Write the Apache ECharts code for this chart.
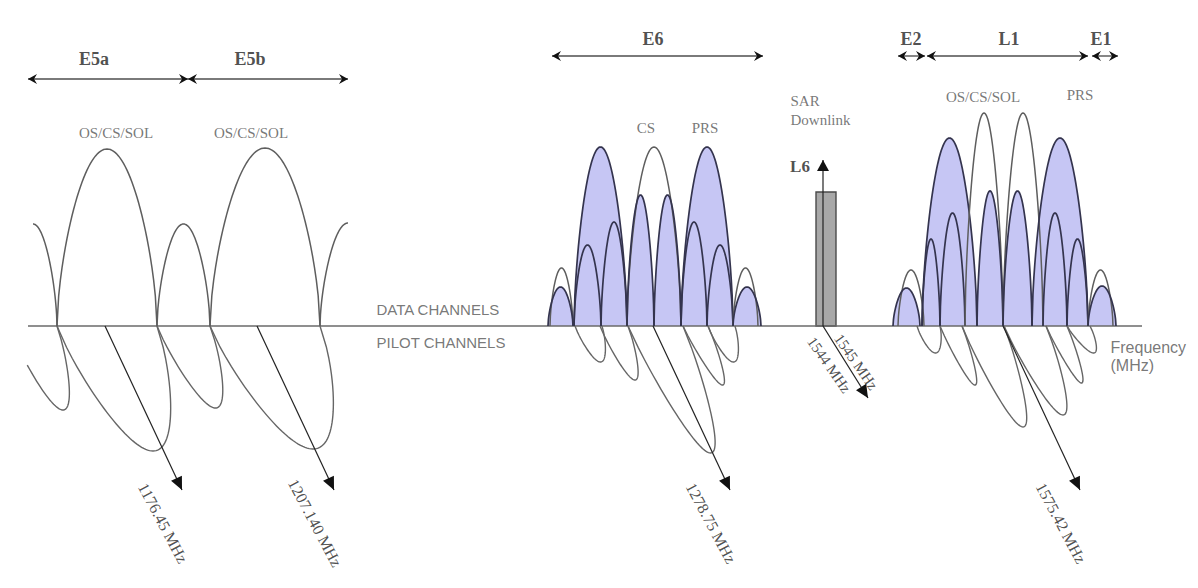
<!DOCTYPE html>
<html>
<head>
<meta charset="utf-8">
<script src="https://cdn.jsdelivr.net/npm/echarts@6/dist/echarts.min.js"></script>
<style>
  html, body { margin: 0; padding: 0; background: #fff; }
  #chart { width: 1198px; height: 588px; }
</style>
</head>
<body>
<div id="chart"></div>
<script>
// Galileo signal plan: data-channel spectra above the frequency line,
// pilot-channel spectra mirrored below it and leaned to suggest depth.
// x = schematic frequency position, y = relative spectral level.

// Data lobes: [from, to, level, filled (1/0), tStart, tEnd]
const e5DataLobes = [
  [9, 57, 102, 0, 0.5, 1],
  [57, 157, 177, 0, 0, 1],
  [157, 210, 102, 0, 0, 1],
  [210, 320, 178, 0, 0, 1],
  [320, 376, 103, 0, 0, 0.5]
];
const e6DataLobes = [
  [550, 573, 58, 0], [548, 573, 39, 1],
  [574, 627, 179, 1], [574, 601, 81, 1], [601, 627, 104, 1],
  [627, 681, 179, 0], [627, 654, 131, 1], [654, 681, 131, 1],
  [681, 733, 179, 1], [681, 707, 104, 1], [707, 733, 81, 1],
  [733, 758, 58, 0], [733, 761, 39, 1]
];
const l1DataLobes = [
  [898, 924, 56, 0], [893, 920, 38, 1],
  [922, 977, 188, 1], [922, 940, 87, 1], [940, 965, 113, 1],
  [965, 1003, 213, 0], [977, 1003, 135, 1],
  [1003, 1043, 213, 0], [1003, 1032, 135, 1],
  [1032, 1088, 188, 1], [1043, 1067, 113, 1], [1067, 1088, 87, 1],
  [1088, 1113, 56, 0], [1088, 1116, 40, 1]
];

// Pilot lobes: [from, to, depth, lean, tStart]
const e5PilotLobes = [
  [9, 57, 84, 30, 0.09],
  [57, 157, 125, 46, 0],
  [157, 210, 82, 32, 0],
  [210, 320, 123, 48, 0]
];
const e6PilotLobes = [
  [575, 602, 36, 12, 0],
  [600, 628, 54, 21, 0],
  [628, 683, 127, 55, 0],
  [683, 708, 59, 27, 0],
  [708, 735, 36, 12, 0]
];
const l1PilotLobes = [
  [917, 940, 27, 7, 0],
  [940, 962, 59, 24, 0],
  [962, 1004, 101, 40, 0],
  [1004, 1046, 89, 38, 0],
  [1046, 1067, 57, 25, 0],
  [1067, 1090, 27, 15, 0]
];

// Frequency bands shown as double arrows across the top
const bandNames = ['E5a', 'E5b', 'E6', 'E2', 'L1', 'E1'];
const bandFrom = [28, 188, 552, 898, 927, 1092];
const bandTo = [188, 348, 763, 925, 1088, 1118];
const bandLevel = [247, 247, 270, 270, 270, 270];
const bandLabelX = [94, 250, 653, 911, 1009, 1101];

// Carrier frequencies, marked where each arrow leaves the line
const carrierLabels = ['1176.45 MHz', '1207.140 MHz', '1278.75 MHz', '1575.42 MHz'];
const carrierAt = [105, 257, 653, 1003];

// Signal service names over the lobes
const serviceNames = ['OS/CS/SOL', 'OS/CS/SOL', 'CS', 'PRS', 'OS/CS/SOL', 'PRS'];
const serviceX = [116, 251, 646, 705, 983, 1080];
const serviceLevel = [193, 193, 198, 198, 229, 231];

// SAR downlink (L6): band [from, to, level] and its edge frequencies
const sarBand = [816, 836, 134];
const sarLabels = ['1544 MHz', '1545 MHz'];

// Frequency line extent
const freqLine = [28, 1142];

// ---------------------------------------------------------------------------
const SERIF = '"Liberation Serif", "DejaVu Serif", serif';
const SANS = '"Liberation Sans", Arial, sans-serif';
const LOBE_SHAPE = 0.6;
const STEPS = 60;
const LEAN = [77, -164];     // carrier arrow vector
const SAR_LEAN = [45, -72];

const full = rows => rows.map(r => [r[0], r[1], r[2], r[3], r[4] == null ? 0 : r[4], r[5] == null ? 1 : r[5]]);
const dataLobes = full(e5DataLobes).concat(full(e6DataLobes), full(l1DataLobes));
const pilotLobes = e5PilotLobes.concat(e6PilotLobes, l1PilotLobes);

function arch(api, from, to, level, lean, t0, t1) {
  const pts = [];
  for (let i = 0; i <= STEPS; i++) {
    const t = t0 + (t1 - t0) * i / STEPS;
    const s = Math.pow(Math.max(Math.sin(Math.PI * t), 0), LOBE_SHAPE);
    pts.push(api.coord([from + (to - from) * t + lean * s, level * s]));
  }
  return pts;
}

function vals(api, n) {
  const v = [];
  for (let i = 0; i < n; i++) v.push(api.value(i));
  return v;
}

function headPoints(p0, p1, len, half, notch) {
  const dx = p1[0] - p0[0], dy = p1[1] - p0[1];
  const d = Math.hypot(dx, dy) || 1;
  const ux = dx / d, uy = dy / d, px = -uy, py = ux;
  const bx = p1[0] - ux * len, by = p1[1] - uy * len;
  return [
    [p1[0], p1[1]],
    [bx + px * half, by + py * half],
    [p1[0] - ux * (len - notch), p1[1] - uy * (len - notch)],
    [bx - px * half, by - py * half]
  ];
}

// arrow items: [x1, y1, x2, y2, kind]  kind 1: head at end, 2: chevrons both ends
const arrowItems = [];
bandNames.forEach((n, i) => arrowItems.push([bandFrom[i], bandLevel[i], bandTo[i], bandLevel[i], 2]));
carrierAt.forEach(x => arrowItems.push([x, 0, x + LEAN[0], LEAN[1], 1]));
arrowItems.push([(sarBand[0] + sarBand[1]) / 2 - 3, 0, (sarBand[0] + sarBand[1]) / 2 - 3 + SAR_LEAN[0], SAR_LEAN[1], 1]);
arrowItems.push([(sarBand[0] + sarBand[1]) / 2 - 3, 0, (sarBand[0] + sarBand[1]) / 2 - 3, 166, 3]);

function renderArrow(params, api) {
  const [x1, y1, x2, y2, kind] = vals(api, 5);
  const a = api.coord([x1, y1]), b = api.coord([x2, y2]);
  const children = [];
  if (kind === 2) {
    children.push({ type: 'line', shape: { x1: a[0], y1: a[1], x2: b[0], y2: b[1] },
      style: { stroke: '#7a7a7a', lineWidth: 1.8 } });
    children.push({ type: 'polygon', shape: { points: headPoints(a, b, 9, 5, 3) }, style: { fill: '#111' } });
    children.push({ type: 'polygon', shape: { points: headPoints(b, a, 9, 5, 3) }, style: { fill: '#111' } });
  } else {
    children.push({ type: 'line', shape: { x1: a[0], y1: a[1], x2: b[0], y2: b[1] },
      style: { stroke: '#222', lineWidth: 1.2 } });
    const big = kind === 1;
    children.push({ type: 'polygon', shape: { points: headPoints(a, b, big ? 13 : 11, 6, 0) }, style: { fill: '#111' } });
  }
  return { type: 'group', children: children, silent: true };
}

// Text annotations
const notes = [];
function note(text, x, y, label) {
  notes.push({ name: text, value: [x, y], label: label });
}
bandNames.forEach((n, i) => note(n, bandLabelX[i], bandLevel[i] + (i < 2 ? 20 : 17),
  { fontFamily: SERIF, fontWeight: 'bold', fontSize: 18, color: '#222' }));
serviceNames.forEach((n, i) => note(n, serviceX[i], serviceLevel[i],
  { fontFamily: SERIF, fontSize: 15, color: '#555' }));
carrierAt.forEach((x, i) => note(carrierLabels[i], x + LEAN[0] - 19, LEAN[1] - 33,
  { fontFamily: SERIF, fontSize: 16, color: '#222', rotate: -62 }));
note(sarLabels[0], 829, -39, { fontFamily: SERIF, fontSize: 15, color: '#222', rotate: -55 });
note(sarLabels[1], 856, -36, { fontFamily: SERIF, fontSize: 15, color: '#222', rotate: -55 });
note('SAR\nDownlink', 791, 234, { fontFamily: SERIF, fontSize: 15, color: '#555', lineHeight: 19,
  position: [0, 0], align: 'left', verticalAlign: 'top' });
note('L6', 800, 160, { fontFamily: SERIF, fontWeight: 'bold', fontSize: 17, color: '#222' });
note('DATA CHANNELS', 377, 16, { fontFamily: SANS, fontSize: 15, color: '#555',
  position: [0, 0], align: 'left', verticalAlign: 'middle' });
note('PILOT CHANNELS', 377, -17, { fontFamily: SANS, fontSize: 15, color: '#555',
  position: [0, 0], align: 'left', verticalAlign: 'middle' });
note('Frequency\n(MHz)', 1111, -13, { fontFamily: SANS, fontSize: 16, color: '#555', lineHeight: 18,
  position: [0, 0], align: 'left', verticalAlign: 'top' });

const chart = echarts.init(document.getElementById('chart'), null, { renderer: 'svg' });
chart.setOption({
  animation: false,
  backgroundColor: '#fff',
  grid: { left: 0, right: 0, top: 0, bottom: 0 },
  xAxis: { type: 'value', min: 0, max: 1198, show: false },
  yAxis: { type: 'value', min: -262, max: 326, show: false },
  series: [
    {
      name: 'fills', type: 'custom', z: 1, silent: true,
      data: dataLobes.filter(r => r[3] === 1),
      renderItem: (params, api) => {
        const [from, to, level, , t0, t1] = vals(api, 6);
        return { type: 'polygon', shape: { points: arch(api, from, to, level, 0, t0, t1) },
          style: { fill: '#c6c6f4', stroke: null } };
      }
    },
    {
      name: 'SAR band', type: 'custom', z: 2, silent: true,
      data: [sarBand],
      renderItem: (params, api) => {
        const [from, to, level] = vals(api, 3);
        const a = api.coord([from, level]), b = api.coord([to, 0]);
        return { type: 'rect', shape: { x: a[0], y: a[1], width: b[0] - a[0], height: b[1] - a[1] },
          style: { fill: '#a8a8a8', stroke: '#4a4a4a', lineWidth: 1.4 } };
      }
    },
    {
      name: 'frequency line', type: 'custom', z: 3, silent: true,
      data: [freqLine],
      renderItem: (params, api) => {
        const a = api.coord([api.value(0), 0]), b = api.coord([api.value(1), 0]);
        return { type: 'line', shape: { x1: a[0], y1: a[1], x2: b[0], y2: b[1] },
          style: { stroke: '#6a6a6a', lineWidth: 1.6 } };
      }
    },
    {
      name: 'data lobes', type: 'custom', z: 4, silent: true,
      data: dataLobes,
      renderItem: (params, api) => {
        const [from, to, level, filled, t0, t1] = vals(api, 6);
        return { type: 'polyline', shape: { points: arch(api, from, to, level, 0, t0, t1) },
          style: { fill: null, stroke: filled ? '#34344e' : '#5e5e5e', lineWidth: filled ? 1.7 : 1.5 } };
      }
    },
    {
      name: 'pilot lobes', type: 'custom', z: 4, silent: true,
      data: pilotLobes,
      renderItem: (params, api) => {
        const [from, to, depth, lean, t0] = vals(api, 5);
        return { type: 'polyline', shape: { points: arch(api, from, to, -depth, lean, t0, 1) },
          style: { fill: null, stroke: '#666', lineWidth: 1.4 } };
      }
    },
    {
      name: 'arrows', type: 'custom', z: 5, silent: true,
      data: arrowItems,
      renderItem: renderArrow
    },
    {
      name: 'notes', type: 'scatter', z: 6, silent: true,
      symbolSize: 1, itemStyle: { color: 'transparent' },
      data: notes,
      label: { show: true, position: 'inside', align: 'center', verticalAlign: 'middle',
        formatter: p => p.name }
    }
  ]
});
</script>
</body>
</html>
